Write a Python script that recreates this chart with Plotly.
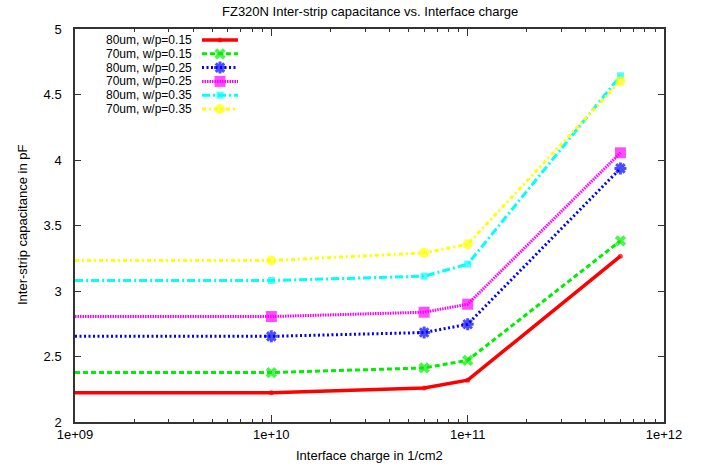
import plotly.graph_objects as go

# Interface charge (1/cm2) and inter-strip capacitance (pF) per geometry
charge = [1e9, 1e10, 6e10, 1e11, 6e11]

series_names = [
    "80um, w/p=0.15",
    "70um, w/p=0.15",
    "80um, w/p=0.25",
    "70um, w/p=0.25",
    "80um, w/p=0.35",
    "70um, w/p=0.35",
]
cap_80_015 = [2.224, 2.224, 2.260, 2.319, 3.266]
cap_70_015 = [2.377, 2.377, 2.413, 2.471, 3.383]
cap_80_025 = [2.654, 2.654, 2.683, 2.746, 3.936]
cap_70_025 = [2.805, 2.805, 2.838, 2.899, 4.055]
cap_80_035 = [3.080, 3.080, 3.113, 3.205, 4.643]
cap_70_035 = [3.233, 3.233, 3.291, 3.357, 4.603]

x_tickvals = [1e9, 1e10, 1e11, 1e12]
x_ticktext = ["1e+09", "1e+10", "1e+11", "1e+12"]
y_tickvals = [2, 2.5, 3, 3.5, 4, 4.5, 5]
y_ticktext = ["2", "2.5", "3", "3.5", "4", "4.5", "5"]

# figure geometry (pixels)
W, H = 713, 466
L, R, T, B = 75, 49, 29, 44
PW, PH = W - L - R, H - T - B


def px(xp):
    return (xp - L) / PW


def py(yp):
    return (H - B - yp) / PH


FONT = "Liberation Sans, Arial, Helvetica, sans-serif"
AXIS_COLOR = "#333333"

styles = [
    dict(color="#ff0000", dash="solid", width=3.5, symbol="circle", size=5, mline=0),
    dict(color="#00ee00", dash="5px,3px", width=3, symbol="x", size=10, mline=0),
    dict(color="#0000ff", dash="2px,2.5px", width=3, symbol="asterisk-open", size=10, mline=3),
    dict(color="#ff00ff", dash="1.5px,1px", width=3, symbol="square", size=11, mline=0),
    dict(color="#00ffff", dash="8px,3px,2px,3px", width=3, symbol="square", size=7, mline=0),
    dict(color="#ffff00", dash="4px,3px,2px,3px", width=3, symbol="circle", size=10, mline=0),
]

all_series = [cap_80_015, cap_70_015, cap_80_025, cap_70_025, cap_80_035, cap_70_035]

fig = go.Figure()

for name, vals, st in zip(series_names, all_series, styles):
    sizes = [0] + [st["size"]] * (len(charge) - 1)
    fig.add_trace(go.Scatter(
        x=charge, y=vals, name=name, mode="lines+markers",
        line=dict(color=st["color"], width=st["width"], dash=st["dash"]),
        marker=dict(symbol=st["symbol"], size=sizes, color=st["color"],
                    line=dict(color=st["color"], width=st["mline"])),
        showlegend=False, cliponaxis=True,
    ))

# key drawn gnuplot-style: right-aligned text followed by the line sample
row0, row_step = 40, 13.8
for i, (name, st) in enumerate(zip(series_names, styles)):
    yr = row0 + i * row_step
    fig.add_trace(go.Scatter(
        x=[202, 220, 238], y=[yr, yr, yr], mode="lines+markers",
        xaxis="x2", yaxis="y2",
        line=dict(color=st["color"], width=st["width"], dash=st["dash"]),
        marker=dict(symbol=st["symbol"], size=[0, st["size"], 0], color=st["color"],
                    line=dict(color=st["color"], width=st["mline"])),
        showlegend=False, hoverinfo="skip",
    ))
    fig.add_annotation(
        x=px(193), y=py(yr), xref="paper", yref="paper",
        text=name, showarrow=False, xanchor="right", yanchor="middle",
        borderpad=0,
        font=dict(family=FONT, size=12, color="black"),
    )

minor_x = [m * 10 ** e for e in range(9, 12) for m in range(2, 10)]

fig.update_layout(
    width=W, height=H,
    margin=dict(l=L, r=R, t=T, b=B),
    paper_bgcolor="white", plot_bgcolor="white",
    font=dict(family=FONT, size=13, color="black"),
    showlegend=False,
    xaxis=dict(
        type="log", range=[9, 12],
        tickmode="array", tickvals=x_tickvals, ticktext=x_ticktext,
        ticks="inside", ticklen=7, tickwidth=1, tickcolor=AXIS_COLOR,
        minor=dict(tickmode="array", tickvals=minor_x, ticks="inside",
                   ticklen=3.5, tickwidth=1, tickcolor=AXIS_COLOR, showgrid=False),
        showline=True, linecolor=AXIS_COLOR, linewidth=1.5, mirror="allticks",
        showgrid=False, zeroline=False,
        tickfont=dict(family=FONT, size=13, color="black"),
        ticklabelstandoff=0,
    ),
    yaxis=dict(
        range=[2, 5],
        tickmode="array", tickvals=y_tickvals, ticktext=y_ticktext,
        ticks="inside", ticklen=6, tickwidth=1, tickcolor=AXIS_COLOR,
        showline=True, linecolor=AXIS_COLOR, linewidth=1.5, mirror="allticks",
        showgrid=False, zeroline=False,
        tickfont=dict(family=FONT, size=13, color="black"),
        ticklabelstandoff=9,
    ),
    xaxis2=dict(overlaying="x", range=[L, W - R], visible=False, anchor="y2"),
    yaxis2=dict(overlaying="y", range=[H - B, T], visible=False, anchor="x2"),
)

fig.add_annotation(
    x=px(370), y=py(12), xref="paper", yref="paper",
    text="FZ320N Inter-strip capacitance vs. Interface charge",
    showarrow=False, xanchor="center", yanchor="middle",
    font=dict(family=FONT, size=13, color="black"),
)
fig.add_annotation(
    x=px(369), y=py(455), xref="paper", yref="paper",
    text="Interface charge in 1/cm2",
    showarrow=False, xanchor="center", yanchor="middle",
    font=dict(family=FONT, size=13, color="black"),
)
fig.add_annotation(
    x=px(22), y=py(225), xref="paper", yref="paper",
    text="Inter-strip capacitance in pF", textangle=-90,
    showarrow=False, xanchor="center", yanchor="middle",
    font=dict(family=FONT, size=13, color="black"),
)

fig.write_html("out.html")
